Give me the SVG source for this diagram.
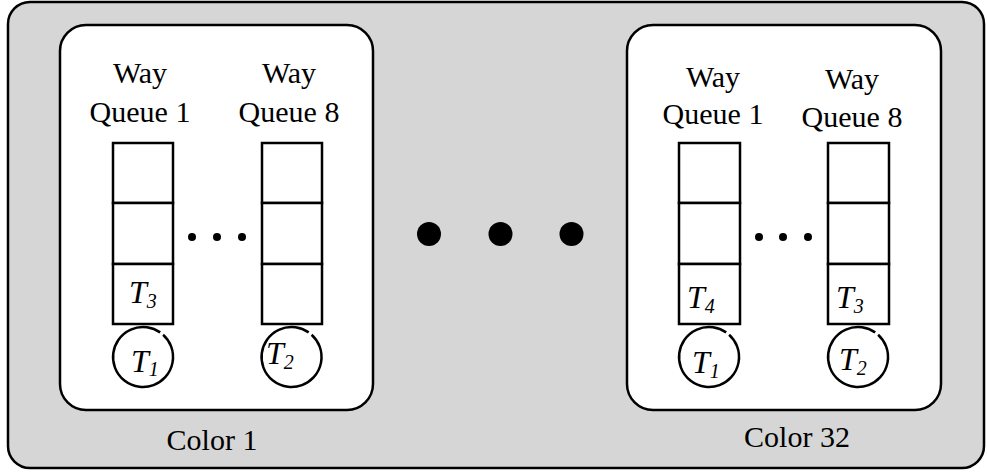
<svg xmlns="http://www.w3.org/2000/svg" width="987" height="472" viewBox="0 0 987 472">
<style>
.outer{fill:#d6d6d6;stroke:#000;stroke-width:2.5}
.box{fill:#fff;stroke:#000;stroke-width:2.5}
.cell{fill:#fff;stroke:#000;stroke-width:2.5}
.circ{fill:#fff;stroke:#000;stroke-width:2.5}
.lbl{font-family:"Liberation Serif","Times New Roman",serif;font-size:30px;fill:#000;text-anchor:middle}
.t{font-family:"Liberation Serif","Times New Roman",serif;font-size:32px;font-style:italic;fill:#000}
.sub{font-size:20px}
.dot{fill:#000}
</style>
<rect class="outer" x="8" y="2" width="976" height="466" rx="22"/>
<g id="color1">
<rect class="box" x="60" y="25" width="313" height="385" rx="26"/>
<text class="lbl" x="212" y="450">Color 1</text>
</g>
<g id="c1-q1">
<text class="lbl" x="140" y="83">Way</text>
<text class="lbl" x="140" y="122">Queue 1</text>
<rect class="cell" x="113" y="143" width="60" height="60"/>
<rect class="cell" x="113" y="203" width="60" height="61"/>
<rect class="cell" x="113" y="264" width="60" height="60"/>
<text class="t" x="129" y="303">T<tspan class="sub" dy="5">3</tspan></text>
</g>
<g id="c1-t1">
<path class="circ" d="M160.2,332.4 A30,30 0 1 0 163.1,334.7"/>
<text class="t" x="131" y="372">T<tspan class="sub" dy="4">1</tspan></text>
</g>
<g id="c1-q8">
<text class="lbl" x="289" y="83">Way</text>
<text class="lbl" x="289" y="122">Queue 8</text>
<rect class="cell" x="262" y="143" width="60" height="60"/>
<rect class="cell" x="262" y="203" width="60" height="61"/>
<rect class="cell" x="262" y="264" width="60" height="60"/>
</g>
<g id="c1-t2">
<path class="circ" d="M308.7,332.4 A30,30 0 1 0 311.6,334.7"/>
<text class="t" x="266" y="364">T<tspan class="sub" dy="5">2</tspan></text>
</g>
<g id="c1-dots">
<circle class="dot" cx="192" cy="237" r="4"/>
<circle class="dot" cx="217" cy="237" r="4"/>
<circle class="dot" cx="242" cy="237" r="4"/>
</g>
<g id="mid-dots">
<circle class="dot" cx="429" cy="234" r="12"/>
<circle class="dot" cx="500.5" cy="234" r="12"/>
<circle class="dot" cx="571.5" cy="234" r="12"/>
</g>
<g id="color32">
<rect class="box" x="627" y="25" width="314" height="385" rx="26"/>
<text class="lbl" x="797" y="447">Color 32</text>
</g>
<g id="c32-q1">
<text class="lbl" x="713" y="87">Way</text>
<text class="lbl" x="713" y="124">Queue 1</text>
<rect class="cell" x="679" y="143" width="61" height="60"/>
<rect class="cell" x="679" y="203" width="61" height="61"/>
<rect class="cell" x="679" y="264" width="61" height="60"/>
<text class="t" x="687" y="308">T<tspan class="sub" dy="5">4</tspan></text>
</g>
<g id="c32-t1">
<path class="circ" d="M726.2,332.4 A30,30 0 1 0 729.1,334.7"/>
<text class="t" x="692" y="373">T<tspan class="sub" dy="5">1</tspan></text>
</g>
<g id="c32-q8">
<text class="lbl" x="852" y="89">Way</text>
<text class="lbl" x="852" y="127">Queue 8</text>
<rect class="cell" x="828" y="143" width="61" height="60"/>
<rect class="cell" x="828" y="203" width="61" height="61"/>
<rect class="cell" x="828" y="264" width="61" height="60"/>
<text class="t" x="836" y="308">T<tspan class="sub" dy="5">3</tspan></text>
</g>
<g id="c32-t2">
<path class="circ" d="M875.2,332.4 A30,30 0 1 0 878.1,334.7"/>
<text class="t" x="839" y="370">T<tspan class="sub" dy="5">2</tspan></text>
</g>
<g id="c32-dots">
<circle class="dot" cx="759" cy="237" r="4"/>
<circle class="dot" cx="783" cy="237" r="4"/>
<circle class="dot" cx="808" cy="237" r="4"/>
</g>
<g id="connectors"></g>
</svg>
